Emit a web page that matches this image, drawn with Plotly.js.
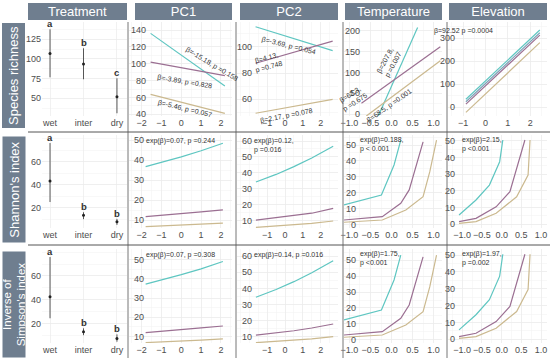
<!DOCTYPE html>
<html><head><meta charset="utf-8">
<script src="https://cdn.plot.ly/plotly-3.0.1.min.js"></script>
<style>html,body{margin:0;padding:0;background:#fff}#chart{width:550px;height:361px}</style>
</head><body><div id="chart"></div>
<script>
// ---------------- data ----------------
const treatments = ["wet", "inter", "dry"];
const richMean  = [107, 93.6, 52];
const richUpper = [137.7, 113.6, 75.4];
const richLower = [76.7, 74.2, 31];
const richLetters = ["a", "b", "c"];
const shanMean  = [43.2, 13.3, 7.8];
const shanUpper = [76.2, 16, 10.2];
const shanLower = [24.9, 10, 5];
const shanLetters = ["a", "b", "b"];
const simpMean  = [42.5, 13, 7.3];
const simpUpper = [76, 15.8, 10.7];
const simpLower = [24.3, 10, 4.5];
const simpLetters = ["a", "b", "b"];

// Species richness: linear fits
const richPC1X = [-1.55, 2.2];
const richPC1Wet = [136, 73.6];
const richPC1Inter = [102, 85.9];
const richPC1Dry = [63.7, 41.2];
const richPC2X = [-1.65, 2.67];
const richPC2Wet = [115.2, 97];
const richPC2Inter = [87.4, 104.3];
const richPC2Dry = [49.4, 60];
const richTempWetX = [-0.36, 0.62];
const richTempWet = [-15, 208];
const richTempInterX = [-0.715, 1.16];
const richTempInter = [25.7, 161.8];
const richTempDryX = [-0.6, 1.16];
const richTempDry = [-5, 128];
const richElevX = [-0.87, 2.43];
const richElevWet = [34.8, 336];
const richElevMid = [24, 324];
const richElevInter = [14, 314];
const richElevDry = [-22, 281];

// Shannon's index: fitted curves
const pc1X = [-1.8, -1, 0, 1, 2.1];
const shanPC1Wet = [36.7, 38.8, 41.6, 44.6, 48.4];
const shanPC1Inter = [11.7, 12.3, 13.1, 14.1, 15.1];
const shanPC1Dry = [6.7, 7.0, 7.4, 7.9, 8.4];
const pc2X = [-1.63, -0.5, 0.5, 1.5, 2.7];
const shanPC2Wet = [34.2, 39.0, 43.9, 49.3, 56.7];
const shanPC2Inter = [10.3, 11.7, 12.9, 14.6, 17.6];
const shanPC2Dry = [5.7, 6.5, 7.2, 8.2, 9.7];
const tempWetX = [-1.13, -0.24, 0.06, 0.22];
const tempInterX = [-1.13, -0.22, 0.22, 0.42, 0.75];
const tempDryX = [-1.13, -0.22, 0.34, 0.75, 0.91, 1.07];
const shanTempWet = [12.5, 18.75, 37.5, 53.1];
const shanTempInter = [3.1, 5.2, 13.6, 21.9, 52];
const shanTempDry = [1.7, 3.1, 9.4, 17.7, 33.3, 53.1];
const elevWetX = [-1.08, -0.65, -0.31, -0.05, 0.03];
const elevInterX = [-1.08, -0.65, -0.14, 0.21, 0.59];
const elevDryX = [-1.08, -0.65, -0.14, 0.38, 0.67, 0.72];
const shanElevWet = [5.6, 14.6, 23.5, 37.5, 50.5];
const shanElevInter = [1.6, 3.6, 10.5, 19.5, 50.5];
const shanElevDry = [0.6, 1.6, 6.6, 16.5, 29.5, 50.5];

// Inverse of Simpson's index: fitted curves
const simpPC1Wet = [37.2, 39.3, 42.1, 45.1, 48.9];
const simpPC1Inter = [12.1, 12.7, 13.5, 14.5, 15.5];
const simpPC1Dry = [6.9, 7.2, 7.7, 8.2, 8.8];
const simpPC2Wet = [34.5, 39.3, 44.2, 49.7, 57.2];
const simpPC2Inter = [11.0, 12.4, 13.7, 15.4, 17.9];
const simpPC2Dry = [6.3, 7.1, 7.8, 8.7, 10.0];
const simpTempWet = [12.5, 18.75, 37.5, 53.1];
const simpTempInter = [3.1, 5.2, 13.6, 21.9, 52];
const simpTempDry = [1.7, 3.1, 9.4, 17.7, 33.3, 53.1];
const simpElevWet = [5.6, 14.6, 23.5, 37.5, 50.5];
const simpElevInter = [1.6, 3.6, 10.5, 19.5, 50.5];
const simpElevDry = [0.6, 1.6, 6.6, 16.5, 29.5, 50.5];

const colTitles = ["Treatment", "PC1", "PC2", "Temperature", "Elevation"];
const rowTitles = ["Species richness", "Shannon's index", "Inverse of<br>Simpson's index"];

// ---------------- layout helpers ----------------
const W = 550, H = 361;
const C_WET = '#5ec6c1', C_INTER = '#9b6f92', C_DRY = '#cbb98f', C_MID = '#7ea4b9';
const colPx = [[42, 127], [129, 232], [237, 338], [344, 442], [448, 547]];
const rowPx = [[22, 116], [135, 228], [249, 343]];
const hdrPx = [[28, 127], [135, 232], [240, 338], [345, 442], [449, 547]];
const rowBoxPx = [[23, 128], [137, 243], [252, 358]];
const yStandoff = [[0, -18, -16, -17, -8], [0, -16, -16, -13, -8], [0, -16, -16, -13, -8]];

const xRanges = [
  [[-0.24, 2.3], [-2.64, 2.56], [-2.69, 2.97], [-1.13, 1.2], [-1.67, 2.75]],
  [[-0.24, 2.3], [-2.64, 2.56], [-2.69, 2.97], [-1.13, 1.2], [-1.36, 1.15]],
  [[-0.24, 2.3], [-2.64, 2.56], [-2.69, 2.97], [-1.13, 1.2], [-1.36, 1.15]]
];
const yRanges = [
  [[27.5, 147], [38, 149.5], [47.3, 118.8], [-4.8, 221], [-37.8, 370.9]],
  [[2.3, 83.2], [6, 52.5], [5.3, 63.8], [-1.9, 56.25], [-2.2, 53.5]],
  [[3.4, 82.8], [6.7, 55.4], [6.1, 64.5], [-1.9, 56.9], [-2.2, 53.6]]
];
const xTicks = [
  [null, [-2,-1,0,1,2], [-1,0,1,2], [-1,-0.5,0,0.5,1], [-1,0,1,2]],
  [null, [-2,-1,0,1,2], [-1,0,1,2], [-1,-0.5,0,0.5,1], [-1,-0.5,0,0.5,1]],
  [null, [-2,-1,0,1,2], [-1,0,1,2], [-1,-0.5,0,0.5,1], [-1,-0.5,0,0.5,1]]
];
const xMinor = [[null, 0.5, 0.5, 0.25, 0.5], [null, 0.5, 0.5, 0.25, 0.25], [null, 0.5, 0.5, 0.25, 0.25]];
const yTicks = [
  [[50,75,100,125], [40,60,80,100,120,140], [60,80,100], [0,50,100,150,200], [0,100,200,300]],
  [[20,40,60], [10,20,30,40,50], [10,20,30,40,50,60], [0,10,20,30,40,50], [0,10,20,30,40,50]],
  [[20,40,60], [10,20,30,40,50], [10,20,30,40,50,60], [0,10,20,30,40,50], [0,10,20,30,40,50]]
];
const yMinor = [[12.5, 10, 10, 25, 50], [10, 5, 5, 5, 5], [10, 5, 5, 5, 5]];

const FONT = 'Liberation Sans, Arial, sans-serif';
const layout = {
  width: W, height: H, margin: {l: 0, r: 0, t: 0, b: 0},
  paper_bgcolor: '#ffffff', plot_bgcolor: '#ffffff', showlegend: false,
  font: {family: FONT, size: 9, color: '#4d4d4d'},
  shapes: [], annotations: []
};
function sfx(i) { return i === 1 ? '' : String(i); }
const traces = [];
function addLine(i, xs, ys, color) {
  traces.push({type: 'scatter', mode: 'lines', x: xs, y: ys, xaxis: 'x' + sfx(i), yaxis: 'y' + sfx(i),
    line: {color: color, width: 1.2}, hoverinfo: 'skip', showlegend: false});
}

for (let r = 0; r < 3; r++) {
  for (let c = 0; c < 5; c++) {
    const i = r * 5 + c + 1, s = sfx(i);
    const xa = {
      domain: [colPx[c][0] / W, colPx[c][1] / W], anchor: 'y' + s,
      range: xRanges[r][c], showline: false, zeroline: false, ticks: '', tickangle: 0,
      showgrid: true, gridcolor: '#ebebeb', gridwidth: 0.7,
      tickfont: {size: 9, color: '#4d4d4d', family: FONT}, fixedrange: true
    };
    if (c === 0) {
      xa.type = 'category'; xa.categoryorder = 'array'; xa.categoryarray = treatments;
    } else {
      xa.tickmode = 'array'; xa.tickvals = xTicks[r][c];
      if (c === 3 || (c === 4 && r > 0)) xa.tickformat = '.1f';
      xa.minor = {tickmode: 'linear', tick0: 0, dtick: xMinor[r][c], showgrid: true, gridcolor: '#f4f4f4', gridwidth: 0.6, ticklen: 0};
    }
    layout['xaxis' + s] = xa;
    const ya = {
      domain: [1 - rowPx[r][1] / H, 1 - rowPx[r][0] / H], anchor: 'x' + s,
      range: yRanges[r][c], tickmode: 'array', tickvals: yTicks[r][c],
      showline: false, zeroline: false, ticks: '',
      showgrid: true, gridcolor: '#ebebeb', gridwidth: 0.7,
      minor: {tickmode: 'linear', tick0: 0, dtick: yMinor[r][c], showgrid: true, gridcolor: '#f4f4f4', gridwidth: 0.6, ticklen: 0},
      tickfont: {size: 9, color: '#4d4d4d', family: FONT}, fixedrange: true
    };
    if (c > 0) ya.ticklabelstandoff = yStandoff[r][c];
    layout['yaxis' + s] = ya;
  }
}

// ---------------- treatment panels ----------------
function treat(i, mean, up, lo, letters) {
  traces.push({
    type: 'scatter', mode: 'markers', x: treatments, y: mean, xaxis: 'x' + sfx(i), yaxis: 'y' + sfx(i),
    marker: {size: 3, color: '#222'},
    error_y: {type: 'data', symmetric: false, array: up.map((u, k) => u - mean[k]),
      arrayminus: lo.map((l, k) => mean[k] - l), width: 0, thickness: 0.9, color: '#444'},
    hoverinfo: 'skip', showlegend: false
  });
  letters.forEach((t, k) => layout.annotations.push({
    text: '<b>' + t + '</b>', x: k, y: up[k], xref: 'x' + sfx(i), yref: 'y' + sfx(i),
    yanchor: 'bottom', yshift: -2, showarrow: false, font: {size: 9.5, color: '#333', family: FONT}
  }));
}
treat(1, richMean, richUpper, richLower, richLetters);
treat(6, shanMean, shanUpper, shanLower, shanLetters);
treat(11, simpMean, simpUpper, simpLower, simpLetters);

// ---------------- row 1 ----------------
addLine(2, richPC1X, richPC1Wet, C_WET);
addLine(2, richPC1X, richPC1Inter, C_INTER);
addLine(2, richPC1X, richPC1Dry, C_DRY);
addLine(3, richPC2X, richPC2Wet, C_WET);
addLine(3, richPC2X, richPC2Inter, C_INTER);
addLine(3, richPC2X, richPC2Dry, C_DRY);
addLine(4, richTempWetX, richTempWet, C_WET);
addLine(4, richTempInterX, richTempInter, C_INTER);
addLine(4, richTempDryX, richTempDry, C_DRY);
addLine(5, richElevX, richElevWet, C_WET);
addLine(5, richElevX, richElevMid, C_MID);
addLine(5, richElevX, richElevInter, C_INTER);
addLine(5, richElevX, richElevDry, C_DRY);
// ---------------- row 2 ----------------
addLine(7, pc1X, shanPC1Wet, C_WET);
addLine(7, pc1X, shanPC1Inter, C_INTER);
addLine(7, pc1X, shanPC1Dry, C_DRY);
addLine(8, pc2X, shanPC2Wet, C_WET);
addLine(8, pc2X, shanPC2Inter, C_INTER);
addLine(8, pc2X, shanPC2Dry, C_DRY);
addLine(9, tempWetX, shanTempWet, C_WET);
addLine(9, tempInterX, shanTempInter, C_INTER);
addLine(9, tempDryX, shanTempDry, C_DRY);
addLine(10, elevWetX, shanElevWet, C_WET);
addLine(10, elevInterX, shanElevInter, C_INTER);
addLine(10, elevDryX, shanElevDry, C_DRY);
// ---------------- row 3 ----------------
addLine(12, pc1X, simpPC1Wet, C_WET);
addLine(12, pc1X, simpPC1Inter, C_INTER);
addLine(12, pc1X, simpPC1Dry, C_DRY);
addLine(13, pc2X, simpPC2Wet, C_WET);
addLine(13, pc2X, simpPC2Inter, C_INTER);
addLine(13, pc2X, simpPC2Dry, C_DRY);
addLine(14, tempWetX, simpTempWet, C_WET);
addLine(14, tempInterX, simpTempInter, C_INTER);
addLine(14, tempDryX, simpTempDry, C_DRY);
addLine(15, elevWetX, simpElevWet, C_WET);
addLine(15, elevInterX, simpElevInter, C_INTER);
addLine(15, elevDryX, simpElevDry, C_DRY);

// ---------------- strips & separators ----------------
const STRIP = '#6f7e8f';
hdrPx.forEach((h, c) => {
  layout.annotations.push({text: colTitles[c], xref: 'paper', yref: 'paper',
    x: (h[0] + h[1]) / 2 / W, y: 1 - 11.5 / H, xanchor: 'center', yanchor: 'middle',
    width: h[1] - h[0], height: 17, bgcolor: STRIP, borderpad: 0, borderwidth: 0,
    showarrow: false, font: {size: 13, color: '#ffffff', family: FONT}});
});
rowBoxPx.forEach((b, r) => {
  layout.annotations.push({text: rowTitles[r], xref: 'paper', yref: 'paper',
    x: 13.5 / W, y: 1 - (b[0] + b[1]) / 2 / H, xanchor: 'center', yanchor: 'middle',
    width: b[1] - b[0], height: 23, bgcolor: STRIP, borderpad: 0, borderwidth: 0,
    showarrow: false, textangle: -90,
    font: {size: r === 2 ? 11.5 : 13, color: '#ffffff', family: FONT}});
});
[128, 236, 343, 447].forEach(x => layout.shapes.push({type: 'line', xref: 'paper', yref: 'paper',
  x0: x / W, x1: x / W, y0: 1 - 358 / H, y1: 1 - 22 / H, line: {color: '#777', width: 1}}));
[132, 245].forEach(y => layout.shapes.push({type: 'line', xref: 'paper', yref: 'paper',
  x0: 28 / W, x1: 1, y0: 1 - y / H, y1: 1 - y / H, line: {color: '#555', width: 1}}));

// ---------------- statistic labels ----------------
function note(text, x, y, angle, opts) {
  layout.annotations.push(Object.assign({text: text, xref: 'paper', yref: 'paper', x: x / W, y: 1 - y / H,
    textangle: angle, showarrow: false, font: {size: 7, color: '#333', family: FONT}}, opts || {}));
}
note('β=-15.18, p =0.158', 181, 43, 31);
note('β=-3.89, p =0.828', 185, 71, 9.5);
note('β=-5.46, p =0.057', 185, 96.5, 13.5);
note('β=-3.69, p =0.054', 289, 32.5, 14);
note('β=4.13,<br>p =0.748', 268, 48, -15);
note('β=2.17, p =0.078', 286, 105, -11);
note('β=207.8,<br>p =0.007', 406, 43, -62);
note('β=62.3,<br>p =0.675', 372, 81, -33);
note('β=68.5, p =0.001', 416, 85, -35);
note('β=92.52 p =0.0004', 495, 25, 0);
const L = {xanchor: 'left', yanchor: 'top', align: 'left'};
note('exp(β)=0.07, p =0.244', 144, 135, 0, L);
note('exp(β)=0.12,<br>p =0.016', 252, 135, 0, L);
note('exp(β)=0.188,<br>p < 0.001', 358, 134, 0, L);
note('exp(β)=2.15,<br>p <0.001', 460, 134, 0, L);
note('exp(β)=0.07, p =0.308', 144, 249, 0, L);
note('exp(β)=0.14, p =0.016', 252, 249, 0, L);
note('exp(β)=1.75,<br>p <0.001', 358, 248, 0, L);
note('exp(β)=1.97,<br>p =0.002', 460, 248, 0, L);

Plotly.newPlot('chart', traces, layout, {staticPlot: true, displayModeBar: false});
</script></body></html>
